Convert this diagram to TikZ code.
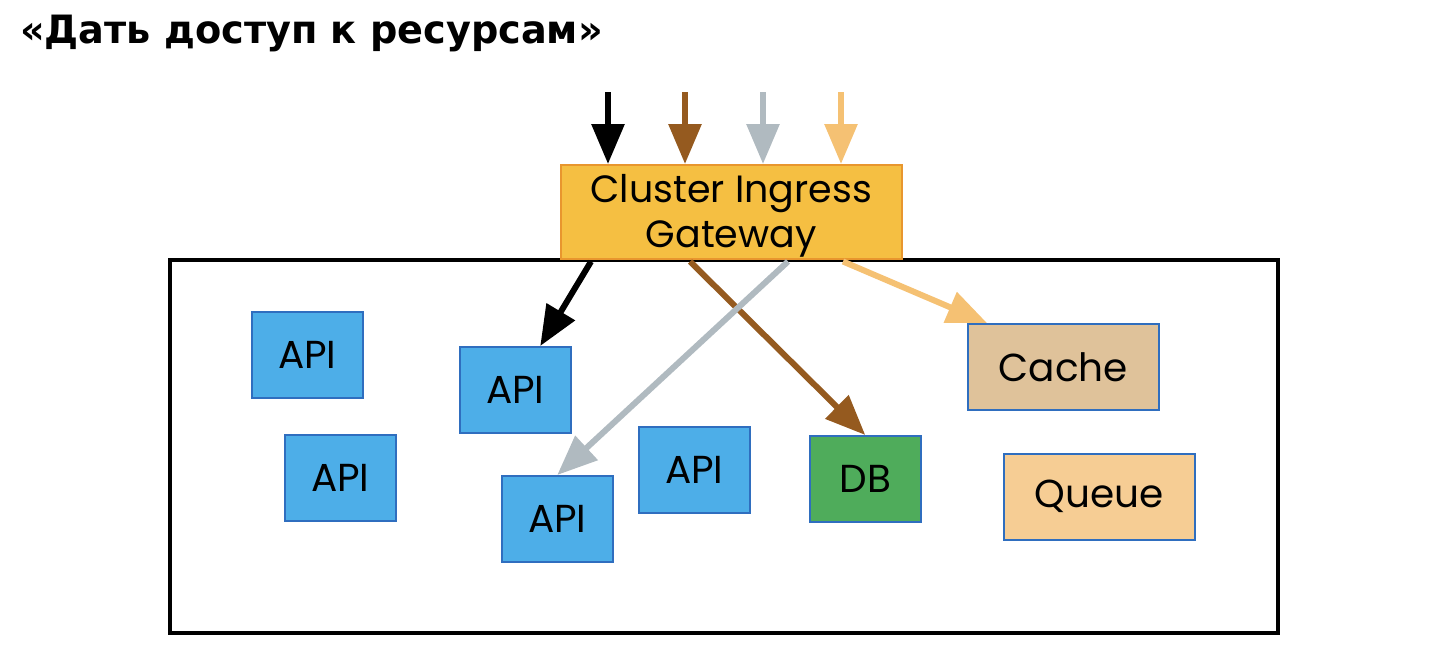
\documentclass[tikz,border=0pt]{standalone}
\usepackage{fontspec}
\setmainfont{Poppins}
\newfontfamily\titlefont{DejaVu Sans}
\usetikzlibrary{arrows.meta,calc}
\definecolor{apifill}{HTML}{4DAEE8}
\definecolor{apiline}{HTML}{2F6EBF}
\definecolor{gwfill}{HTML}{F5BF42}
\definecolor{gwline}{HTML}{E8962E}
\definecolor{dbfill}{HTML}{4FAC5B}
\definecolor{cachefill}{HTML}{DFC29A}
\definecolor{queuefill}{HTML}{F6CD94}
\definecolor{cbrown}{HTML}{955A1F}
\definecolor{cgray}{HTML}{B0BAC0}
\definecolor{corange}{HTML}{F5C173}
\begin{document}
\begin{tikzpicture}[x=1pt,y=-1pt,
  box/.style={draw=apiline,line width=1.5pt,minimum width=111pt,minimum height=86pt,inner sep=0pt,font=\fontsize{39}{42}\selectfont,anchor=north west},
  api/.style={box,fill=apifill},
  arr/.style={line width=6pt,-{Triangle[width=32pt,length=40pt]}}]
\useasboundingbox (0,0) rectangle (1450,654);
\node[anchor=base west,inner sep=0pt,font=\titlefont\bfseries\fontsize{39}{42}\selectfont,xscale=0.98] (title) at (20,43) {«Дать доступ к ресурсам»};
\draw[line width=4pt] (170,260) rectangle (1278,633);
\node[draw=gwline,line width=1.5pt,fill=gwfill,anchor=north west,minimum width=341pt,minimum height=94pt,inner sep=0pt,font=\fontsize{38}{45}\selectfont] (gw) at (560,164) {\raisebox{-4pt}[\height][\depth]{\begin{tabular}{@{}c@{}}Cluster Ingress\\Gateway\end{tabular}}};
\node[api] (api1) at (251,311) {API};
\node[api] (api2) at (459,346) {API};
\node[api] (api3) at (284,434) {API};
\node[api] (api4) at (501,475) {API};
\node[api] (api5) at (638,426) {API};
\node[box,fill=dbfill] (db) at (809,435) {DB};
\node[box,fill=cachefill,minimum width=191pt] (cache) at (967,323) {Cache};
\node[box,fill=queuefill,minimum width=191pt] (queue) at (1003,453) {Queue};
\coordinate (in1) at (608,92);
\coordinate (in2) at (685,92);
\coordinate (in3) at (763,92);
\coordinate (in4) at (841,92);
\draw[arr,black] (in1) -- (in1 |- gw.north);
\draw[arr,cbrown] (in2) -- (in2 |- gw.north);
\draw[arr,cgray] (in3) -- (in3 |- gw.north);
\draw[arr,corange] (in4) -- (in4 |- gw.north);
\draw[arr,black] ($(gw.south west)+(31,2)$) -- ($(api2.north)+(25,0)$);
\draw[arr,cbrown] ($(gw.south west)+(130,2)$) -- (db.north);
\draw[arr,cgray] ($(gw.south west)+(228,2)$) -- (api4.north);
\draw[arr,corange] ($(gw.south west)+(283,2)$) -- ($(cache.north west)+(20,0)$);
\end{tikzpicture}
\end{document}
